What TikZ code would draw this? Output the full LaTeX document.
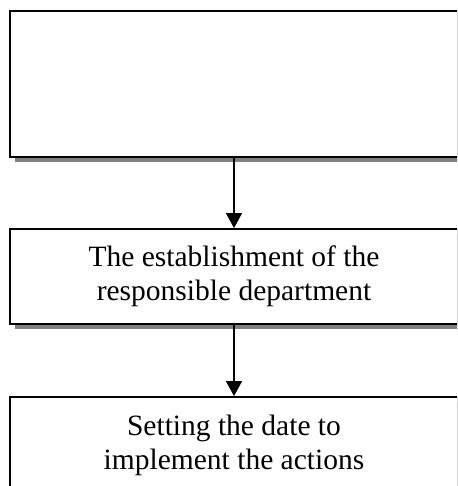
\documentclass[tikz,border=0pt]{standalone}
\usepackage{fontspec}
\setmainfont{Liberation Serif}
\usetikzlibrary{shadows,arrows.meta}
\tikzset{
  flowbox/.style={draw=black, line width=1.8pt, fill=white, rectangle,
    minimum width=448pt, inner sep=0pt, align=center,
    font=\fontsize{29.5}{34}\selectfont,
    drop shadow={shadow xshift=5pt, shadow yshift=-5pt, fill=black!50, opacity=1}},
  flowarrow/.style={draw=black, line width=1.3pt, -{Triangle[length=15pt,width=16pt]}}
}
\begin{document}
\begin{tikzpicture}[x=1pt,y=-1pt]
\useasboundingbox (0,0) rectangle (457,486);
\clip (0,0) rectangle (457,486);
\node[flowbox, minimum height=146pt] (b1) at (234,84) {};
\node[flowbox, minimum height=95pt] (b2) at (234,276.5) {The establishment of the\\responsible department};
\node[flowbox, minimum height=96pt] (b3) at (234,445) {Setting the date to\\implement the actions};
\draw[flowarrow] (b1.south) -- (b2.north);
\draw[flowarrow] (b2.south) -- (b3.north);
\end{tikzpicture}
\end{document}
